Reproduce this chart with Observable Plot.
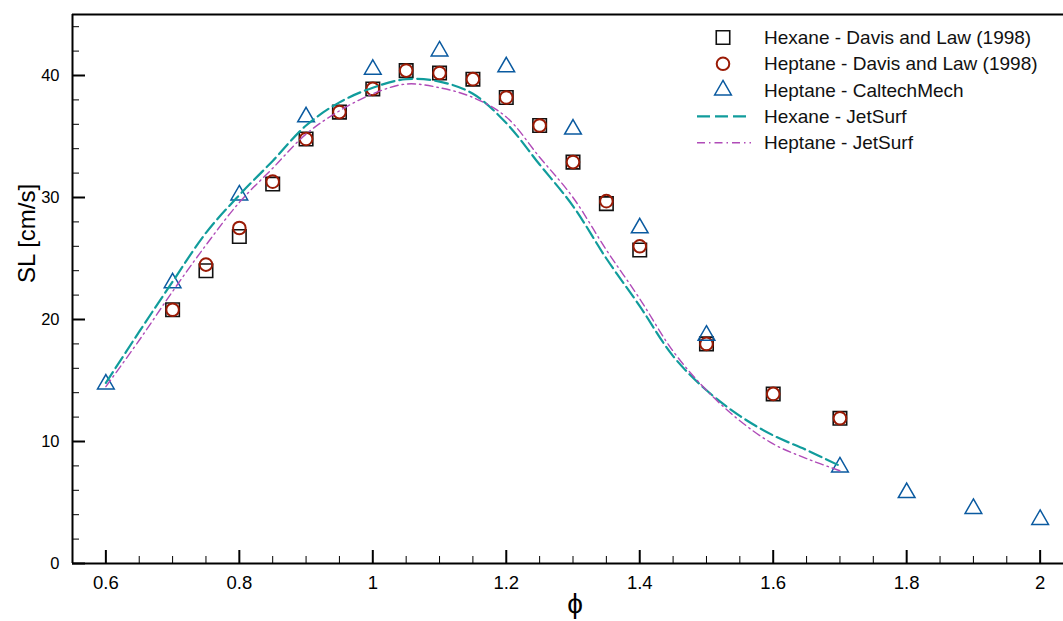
<!DOCTYPE html>
<html><head><meta charset="utf-8">
<script src="https://cdn.jsdelivr.net/npm/d3@7"></script>
<script src="https://cdn.jsdelivr.net/npm/@observablehq/plot@0.6"></script>
<style>body{margin:0;background:#fff}#chart{width:1063px;height:621px}</style>
</head><body><div id="chart"></div>
<script>
// Experimental data (Davis and Law 1998)
const phiDavis = [0.7,0.75,0.8,0.85,0.9,0.95,1.0,1.05,1.1,1.15,1.2,1.25,1.3,1.35,1.4,1.5,1.6,1.7];
const hexaneDavis = [20.8,24.0,26.8,31.1,34.8,37.0,38.9,40.4,40.2,39.7,38.2,35.9,32.9,29.5,25.7,18.0,13.9,11.9];
const heptaneDavis = [20.8,24.5,27.5,31.3,34.8,37.0,38.9,40.4,40.2,39.7,38.2,35.9,32.9,29.7,26.0,18.0,13.9,11.9];
// CaltechMech
const phiCaltech = [0.6,0.7,0.8,0.9,1.0,1.1,1.2,1.3,1.4,1.5,1.7,1.8,1.9,2.0];
const heptaneCaltech = [14.7,23.0,30.2,36.6,40.5,42.0,40.7,35.6,27.5,18.7,7.9,5.8,4.5,3.6];
// JetSurf simulations
const phiJet = [0.6,0.65,0.7,0.75,0.8,0.85,0.9,0.95,1.0,1.05,1.1,1.15,1.2,1.25,1.3,1.35,1.4,1.45,1.5,1.55,1.6,1.65,1.7];
const hexaneJet = [14.8,19.0,23.1,27.1,30.2,33.0,35.9,37.8,39.0,39.7,39.5,38.5,36.1,32.7,29.3,25.0,21.1,17.0,14.2,12.1,10.5,9.3,8.0];
const heptaneJet = [14.5,18.3,22.3,26.1,29.6,32.4,35.2,37.1,38.5,39.3,39.0,38.2,36.6,33.3,30.0,25.7,21.7,17.4,14.2,11.7,9.8,8.6,7.6];
// Axes
const xTicks = [0.6,0.8,1.0,1.2,1.4,1.6,1.8,2.0];
const xTickLabels = ["0.6","0.8","1","1.2","1.4","1.6","1.8","2"];
const yTicks = [0,10,20,30,40];
const yTickLabels = ["0","10","20","30","40"];
const legendLabels = ["Hexane - Davis and Law (1998)","Heptane - Davis and Law (1998)","Heptane - CaltechMech","Hexane - JetSurf","Heptane - JetSurf"];

const C = {sq:"#111", ci:"#9a1a05", tri:"#0a5aa0", hex:"#119c9c", hep:"#b04bb8"};
const xDom = [0.55, 2.035], yDom = [0, 45];
const W = 1063, H = 621, mL = 72, mR = 0, mT = 14, mB = 58;
const pxX = (W - mL - mR) / (xDom[1] - xDom[0]);
const pxY = (H - mT - mB) / (yDom[1] - yDom[0]);
const xMinor = d3.range(0.55, 2.04, 0.05).map(v => +v.toFixed(2)).filter(v => !xTicks.some(t => Math.abs(t - v) < 1e-6));
const yMinor = d3.range(2, 45, 2).filter(v => v % 10 !== 0);

const davis = phiDavis.map((p, i) => ({phi: p, hex: hexaneDavis[i], hep: heptaneDavis[i]}));
const caltech = phiCaltech.map((p, i) => ({phi: p, sl: heptaneCaltech[i]}));
const jet = phiJet.map((p, i) => ({phi: p, hex: hexaneJet[i], hep: heptaneJet[i]}));

const font = "'Liberation Sans', Arial, Helvetica, sans-serif";
const chart = Plot.plot({
  width: W, height: H, marginLeft: mL, marginRight: mR, marginTop: mT, marginBottom: mB,
  x: {domain: xDom, label: null},
  y: {domain: yDom, label: null},
  style: {fontFamily: font, fontSize: "17px", color: "#000", background: "#fff", overflow: "visible"},
  marks: [
    Plot.axisX(xTicks, {tickSize: 0, tickPadding: 12, fontSize: 18.5, tickFormat: d => xTickLabels[xTicks.indexOf(d)]}),
    Plot.axisY(yTicks, {tickSize: 0, tickPadding: 13, fontSize: 16.5, tickFormat: d => yTickLabels[yTicks.indexOf(d)]}),
    Plot.ruleX(xTicks, {y1: 0, y2: 13 / pxY, stroke: "#000", strokeWidth: 2}),
    Plot.ruleX(xMinor, {y1: 0, y2: 7 / pxY, stroke: "#000", strokeWidth: 1}),
    Plot.ruleY(yTicks, {x1: xDom[0], x2: xDom[0] + 13 / pxX, stroke: "#000", strokeWidth: 2}),
    Plot.ruleY(yMinor, {x1: xDom[0], x2: xDom[0] + 7 / pxX, stroke: "#000", strokeWidth: 1}),
    Plot.ruleY([yDom[0], yDom[1]], {stroke: "#000", strokeWidth: 2}),
    Plot.ruleX([xDom[0]], {stroke: "#000", strokeWidth: 2}),
    Plot.dot(davis, {x: "phi", y: "hex", symbol: "square", r: 7.6, stroke: C.sq, strokeWidth: 1.6, fill: "none"}),
    Plot.dot(davis, {x: "phi", y: "hep", symbol: "circle", r: 6.3, stroke: C.ci, strokeWidth: 2, fill: "none"}),
    Plot.dot(caltech, {x: "phi", y: "sl", symbol: "triangle", r: 6.2, stroke: C.tri, strokeWidth: 1.5, fill: "none"}),
    Plot.line(jet, {x: "phi", y: "hex", curve: "catmull-rom", stroke: C.hex, strokeWidth: 2.2, strokeDasharray: "13,5"}),
    Plot.line(jet, {x: "phi", y: "hep", curve: "catmull-rom", stroke: C.hep, strokeWidth: 1.4, strokeDasharray: "8,4,1.5,4"}),
    Plot.text(["SL [cm/s]"], {frameAnchor: "left", rotate: -90, dx: -45, dy: -6, fontSize: 24}),
    Plot.text(["ϕ"], {frameAnchor: "bottom", dy: 49, dx: 7, fontSize: 28})
  ]
});
document.getElementById("chart").appendChild(chart);

// Legend inside plot area (upper right)
const svg = d3.select(chart);
const lg = svg.append("g").attr("font-family", font).attr("font-size", 19).attr("text-anchor", "start");
const types = ["square", "circle", "triangle", "hexline", "hepline"];
types.forEach((t, i) => {
  const y = 37.5 + i * 26.3, sx = 723;
  if (t === "square") lg.append("path").attr("d", d3.symbol(d3.symbolSquare, Math.PI * 7.6 * 7.6)()).attr("transform", `translate(${sx},${y})`).attr("fill", "none").attr("stroke", C.sq).attr("stroke-width", 1.6);
  if (t === "circle") lg.append("circle").attr("cx", sx).attr("cy", y).attr("r", 6.3).attr("fill", "none").attr("stroke", C.ci).attr("stroke-width", 2);
  if (t === "triangle") lg.append("path").attr("d", d3.symbol(d3.symbolTriangle, Math.PI * 6.2 * 6.2)()).attr("transform", `translate(${sx},${y})`).attr("fill", "none").attr("stroke", C.tri).attr("stroke-width", 1.5);
  if (t === "hexline") lg.append("line").attr("x1", 697).attr("x2", 751).attr("y1", y).attr("y2", y).attr("stroke", C.hex).attr("stroke-width", 2.2).attr("stroke-dasharray", "13,5");
  if (t === "hepline") lg.append("line").attr("x1", 697).attr("x2", 751).attr("y1", y).attr("y2", y).attr("stroke", C.hep).attr("stroke-width", 1.4).attr("stroke-dasharray", "8,4,1.5,4");
  lg.append("text").attr("x", 764).attr("y", y).attr("dy", "0.35em").attr("fill", "#111").text(legendLabels[i]);
});
</script></body></html>
